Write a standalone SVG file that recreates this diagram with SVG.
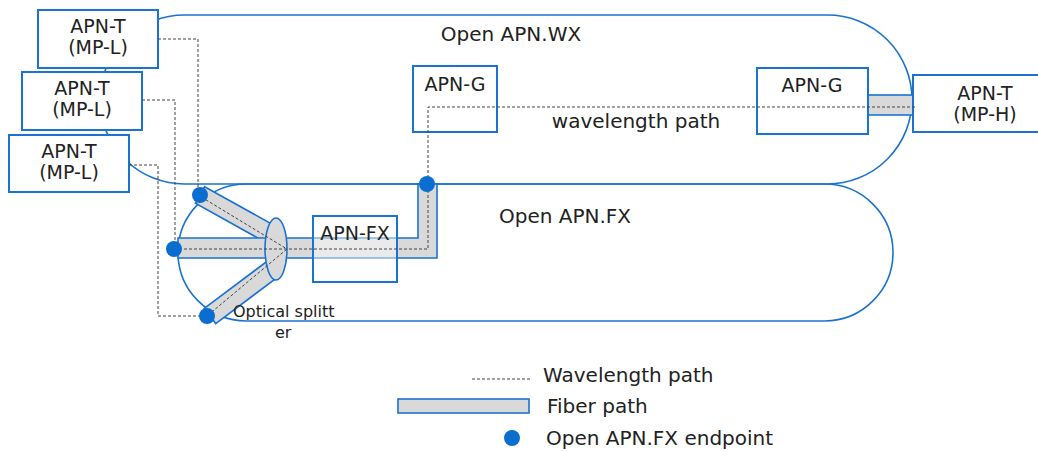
<svg xmlns="http://www.w3.org/2000/svg" width="1038" height="451" viewBox="0 0 1038 451">
<style>
.cap{fill:none;stroke:#1a73d0;stroke-width:1.6}
.box{fill:#fff;stroke:#1a73d0;stroke-width:2}
.fib{fill:#d9d9d9;stroke:#1a73d0;stroke-width:1.6}
.wl{fill:none;stroke:#444;stroke-width:1;stroke-dasharray:3 2}
.ep{fill:#0a6ed1}
text{font-family:"DejaVu Sans",Verdana,sans-serif;fill:#222;font-size:20px}
.b{font-size:19px}
.c{text-anchor:middle}
</style>
<rect width="1038" height="451" fill="#fff"/>
<g id="domains">
<rect id="wx" class="cap" x="100" y="15" width="812" height="169" rx="84.5"/>
<rect id="fx" class="cap" x="178" y="184" width="715" height="137" rx="68.5"/>
<text x="511" y="41" class="c">Open APN.WX</text>
<text x="565" y="223" class="c">Open APN.FX</text>
</g>
<g id="connectors">
<polygon class="fib" points="204.6,186.7 276.6,226.7 267.4,243.3 195.4,203.3"/>
<polygon class="fib" points="204.3,308.4 268.3,260.4 279.7,275.6 215.7,323.6"/>
<polygon class="fib" points="178,238 418,238 418,184 437,184 437,258 178,258"/>
<rect class="fib" x="868" y="95" width="45" height="20"/>
</g>
<g id="splitter">
<ellipse class="fib" cx="276" cy="249" rx="11" ry="31"/>
<text x="233" y="317" style="font-size:16px">Optical splitt</text>
<text x="275" y="338" style="font-size:16px">er</text>
</g>
<g id="apn-t1"><rect class="box" x="38" y="10" width="120" height="58"/><text x="98" y="33" class="c b">APN-T</text><text x="98" y="54" class="c b">(MP-L)</text></g>
<g id="apn-t2"><rect class="box" x="22" y="72" width="120" height="58"/><text x="82" y="95" class="c b">APN-T</text><text x="82" y="116" class="c b">(MP-L)</text></g>
<g id="apn-t3"><rect class="box" x="9" y="135" width="120" height="57"/><text x="69" y="158" class="c b">APN-T</text><text x="69" y="179" class="c b">(MP-L)</text></g>
<g id="apn-g1"><rect class="box" x="413" y="66" width="84" height="66" style="fill:none"/><text x="455" y="91" class="c b">APN-G</text></g>
<g id="apn-g2"><rect class="box" x="757" y="68" width="111" height="66" style="fill:none"/><text x="812" y="92" class="c b">APN-G</text></g>
<g id="apn-t-h"><rect class="box" x="913" y="75" width="130" height="57"/><text x="985" y="100" class="c b">APN-T</text><text x="985" y="121" class="c b">(MP-H)</text></g>
<g id="apn-fx"><rect class="box" x="313" y="216" width="84" height="66" style="fill:#fff;fill-opacity:0.45"/><text x="355" y="240" class="c b">APN-FX</text></g>
<g id="wavelength-paths">
<path class="wl" d="M158,39 H198 V195 L287,249"/>
<path class="wl" d="M142,100 H175 V249"/>
<path class="wl" d="M129,165 H158 V316 H207 L287,249"/>
<path class="wl" d="M174,249 H428 V107 H915"/>
<text x="636" y="128" class="c">wavelength path</text>
</g>
<g id="endpoints">
<circle class="ep" cx="200" cy="195" r="8"/>
<circle class="ep" cx="174" cy="249" r="8"/>
<circle class="ep" cx="207" cy="316" r="8"/>
<circle class="ep" cx="427" cy="184" r="8"/>
</g>
<g id="legend">
<path class="wl" d="M472,379 H530"/>
<text x="543" y="382">Wavelength path</text>
<rect class="fib" x="398" y="399" width="131" height="14"/>
<text x="547" y="413">Fiber path</text>
<circle class="ep" cx="512" cy="438" r="8"/>
<text x="546" y="445">Open APN.FX endpoint</text>
</g>
</svg>
